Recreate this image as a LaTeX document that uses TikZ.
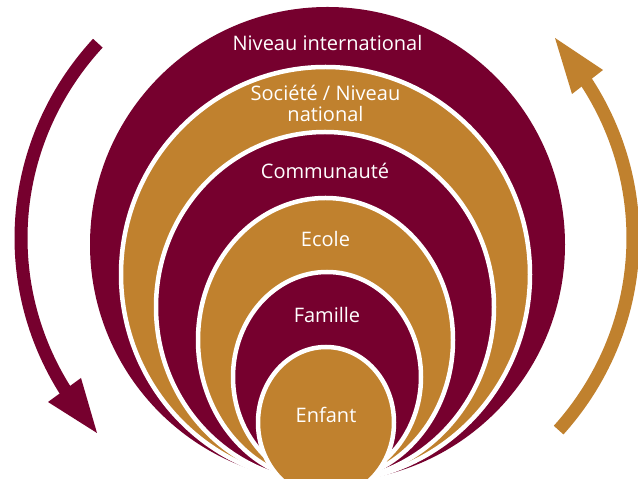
\documentclass[tikz,border=0pt]{standalone}
\usepackage{fontspec}
\setmainfont{Open Sans}
\usetikzlibrary{shapes.geometric}

\definecolor{wine}{RGB}{118,0,46}
\definecolor{ochre}{RGB}{192,129,46}

\tikzset{
  ring/.style={ellipse, draw=white, line width=4.5pt, inner sep=0pt, outer sep=0pt},
  lbl/.style={text=white, font=\fontsize{20}{21}\selectfont, align=center},
  loop/.style={line width=13pt},
}

\begin{document}
\begin{tikzpicture}[x=1pt, y=1pt]

  \clip (0,0) rectangle (638,479);
  \fill[white] (0,0) rectangle (638,479);

  \node (intl) [ring, fill=wine, draw=none, minimum width=475pt, minimum height=475pt] at (327.5,234.5) {};
  \node (societe) [ring, fill=ochre, minimum width=409pt, minimum height=415pt] at (325.5,204.5) {};
  \node (commu) [ring, fill=wine, minimum width=338pt, minimum height=350pt] at (325,172) {};
  \node (ecole) [ring, fill=ochre, minimum width=255pt, minimum height=284pt] at (325.5,139) {};
  \node (famille) [ring, fill=wine, minimum width=188pt, minimum height=210pt] at (327,102) {};
  \node (enfant) [ring, fill=ochre, minimum width=136pt, minimum height=151pt] at (326,56.5) {};

  \node (Lintl) [lbl] at ([yshift=-36pt]intl.north) {Niveau international};
  \node (Lsociete) [lbl] at ([yshift=-36pt]societe.north) {Société / Niveau\\national};
  \node (Lcommu) [lbl] at ([yshift=-39pt]commu.north) {Communauté};
  \node (Lecole) [lbl] at ([yshift=-41pt]ecole.north) {Ecole};
  \node (Lfamille) [lbl] at ([yshift=-43.5pt]famille.north) {Famille};
  \node (Lenfant) [lbl] at ([yshift=-68pt]enfant.north) {Enfant};

  \coordinate (hub) at (327,241);

  \draw[loop, wine] (hub) ++(138.5:306 and 294) arc[start angle=138.5, end angle=212, x radius=306, y radius=294];
  \fill[wine] (48,77) -- (97,46) -- (81,101) -- cycle;

  \draw[loop, ochre] (hub) ++(-40.8:306 and 294) arc[start angle=-40.8, end angle=32.5, x radius=306, y radius=294];
  \fill[ochre] (572,385) -- (555,441) -- (603,409) -- cycle;

\end{tikzpicture}
\end{document}
